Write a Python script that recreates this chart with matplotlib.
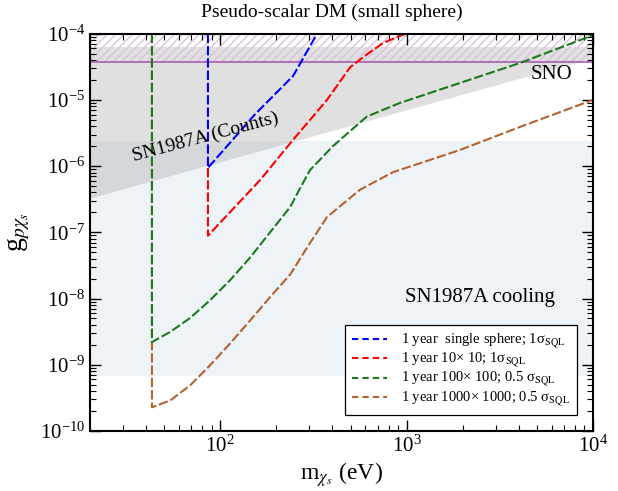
import matplotlib
matplotlib.use("Agg")
import matplotlib.pyplot as plt
from matplotlib.lines import Line2D
from matplotlib.ticker import NullFormatter

plt.rcParams["font.family"] = ["Liberation Serif", "DejaVu Serif"]
plt.rcParams["mathtext.fontset"] = "stix"
plt.rcParams["hatch.linewidth"] = 1.0

# sensitivity curves: mass (eV) vs coupling
blue_m = [85.9, 85.9, 154, 246, 331]
blue_g = [1e-4, 9.4e-7, 6.1e-6, 2.3e-5, 1e-4]

red_m = [85.9, 85.9, 164, 243, 374, 497, 620, 747, 870, 990]
red_g = [9.4e-7, 8.9e-8, 6.2e-7, 2.4e-6, 1.0e-5, 3.1e-5, 5.0e-5, 7.2e-5, 8.7e-5, 1.0e-4]

green_m = [43, 43, 54, 69, 88.4, 113, 145, 185, 237, 270, 303, 402, 611, 921, 1930, 4050, 1e4]
green_g = [1e-4, 2.2e-9, 3.15e-9, 5.1e-9, 9.5e-9, 1.9e-8, 4.2e-8, 1.0e-7, 2.4e-7,
           4.8e-7, 8.7e-7, 2.0e-6, 5.6e-6, 9.0e-6, 1.8e-5, 3.6e-5, 9.5e-5]

brown_m = [43, 43, 54, 69, 88.4, 113, 145, 185, 237, 303, 374, 562, 845, 1930, 4050, 1e4]
brown_g = [1e-4, 2.28e-10, 2.9e-10, 4.9e-10, 9.9e-10, 2.1e-9, 4.7e-9, 1.05e-8, 2.3e-8,
           6.9e-8, 1.7e-7, 4.4e-7, 8.1e-7, 1.75e-6, 3.9e-6, 1.0e-5]

labels = [
    "1 year  single sphere; 1σ$_{\\rm SQL}$",
    "1 year 10× 10; 1σ$_{\\rm SQL}$",
    "1 year 100× 100; 0.5 σ$_{\\rm SQL}$",
    "1 year 1000× 1000; 0.5 σ$_{\\rm SQL}$",
]

# excluded regions
sno_limit = 3.8e-5
counts_top = 6.4e-5
counts_lo_m = [20, 1e4]
counts_lo_g = [3.3e-7, 4.3e-5]
cooling_band = [6.8e-10, 2.4e-6]

xlim = (20, 1e4)
ylim = (1e-10, 1e-4)

fig = plt.figure(figsize=(6.18, 4.91), dpi=100)
ax = fig.add_axes([0.1456, 0.1222, 0.8139, 0.8092])
ax.set_xscale("log")
ax.set_yscale("log")
ax.set_xlim(*xlim)
ax.set_ylim(*ylim)
ax.xaxis.set_minor_formatter(NullFormatter())
ax.yaxis.set_minor_formatter(NullFormatter())

ax.fill_between(xlim, cooling_band[0], cooling_band[1], color="#eef3f8", lw=0, zorder=0)
ax.fill_between(counts_lo_m, counts_lo_g, counts_top, color="#a7a7a7", alpha=0.35,
                lw=0, zorder=1)
ax.fill_between(xlim, sno_limit, ylim[1], facecolor="none", edgecolor="#dcc3dc",
                hatch="////", lw=0, zorder=1.5)
ax.axhline(sno_limit, color="#a550b0", lw=1.1, zorder=2)

dash = (4.5, 1.4)
curves = [
    (blue_m, blue_g, "#0000ff", 4),
    (red_m, red_g, "#ff0000", 4),
    (green_m, green_g, "#1c7a1c", 4),
    (brown_m, brown_g, "#b5622e", 3.5),
]
handles = []
for (m, g, c, z), lab in zip(curves, labels):
    ax.plot(m, g, color=c, lw=1.5, dashes=dash, zorder=z)
    handles.append(Line2D([], [], color=c, lw=1.5, dashes=(3, 2), label=lab))

ax.text(83, 2.75e-6, "SN1987A (Counts)", rotation=15, fontsize=14,
        ha="center", va="center", zorder=5)
ax.text(6000, 2.4e-5, "SNO", fontsize=15, ha="center", va="center", zorder=5)
ax.text(2470, 1.02e-8, "SN1987A cooling", fontsize=15, ha="center", va="center",
        zorder=5)

leg = ax.legend(handles=handles, loc="lower right", bbox_to_anchor=(0.968, 0.04),
                borderaxespad=0, fontsize=10.5, frameon=True, fancybox=False,
                edgecolor="black", framealpha=1, handlelength=2.4,
                handletextpad=1.0, labelspacing=0.0, borderpad=0.45)
leg.get_frame().set_linewidth(0.9)
leg.set_zorder(6)

ax.tick_params(which="both", direction="in", top=True, right=True, labelsize=15)
ax.tick_params(which="major", length=8, width=1.0)
ax.tick_params(which="minor", length=4, width=0.8)
for s in ax.spines.values():
    s.set_linewidth(1.5)
    s.set_zorder(7)

ax.set_xlabel(r"m$_{\chi_s}$ (eV)", fontsize=17, labelpad=2)
ax.set_ylabel(r"g$_{p\chi_s}$", fontsize=20, labelpad=6)
fig.text(0.537, 0.975, "Pseudo-scalar DM (small sphere)", fontsize=14,
         ha="center", va="center")

fig.savefig("out.png", dpi=100)
